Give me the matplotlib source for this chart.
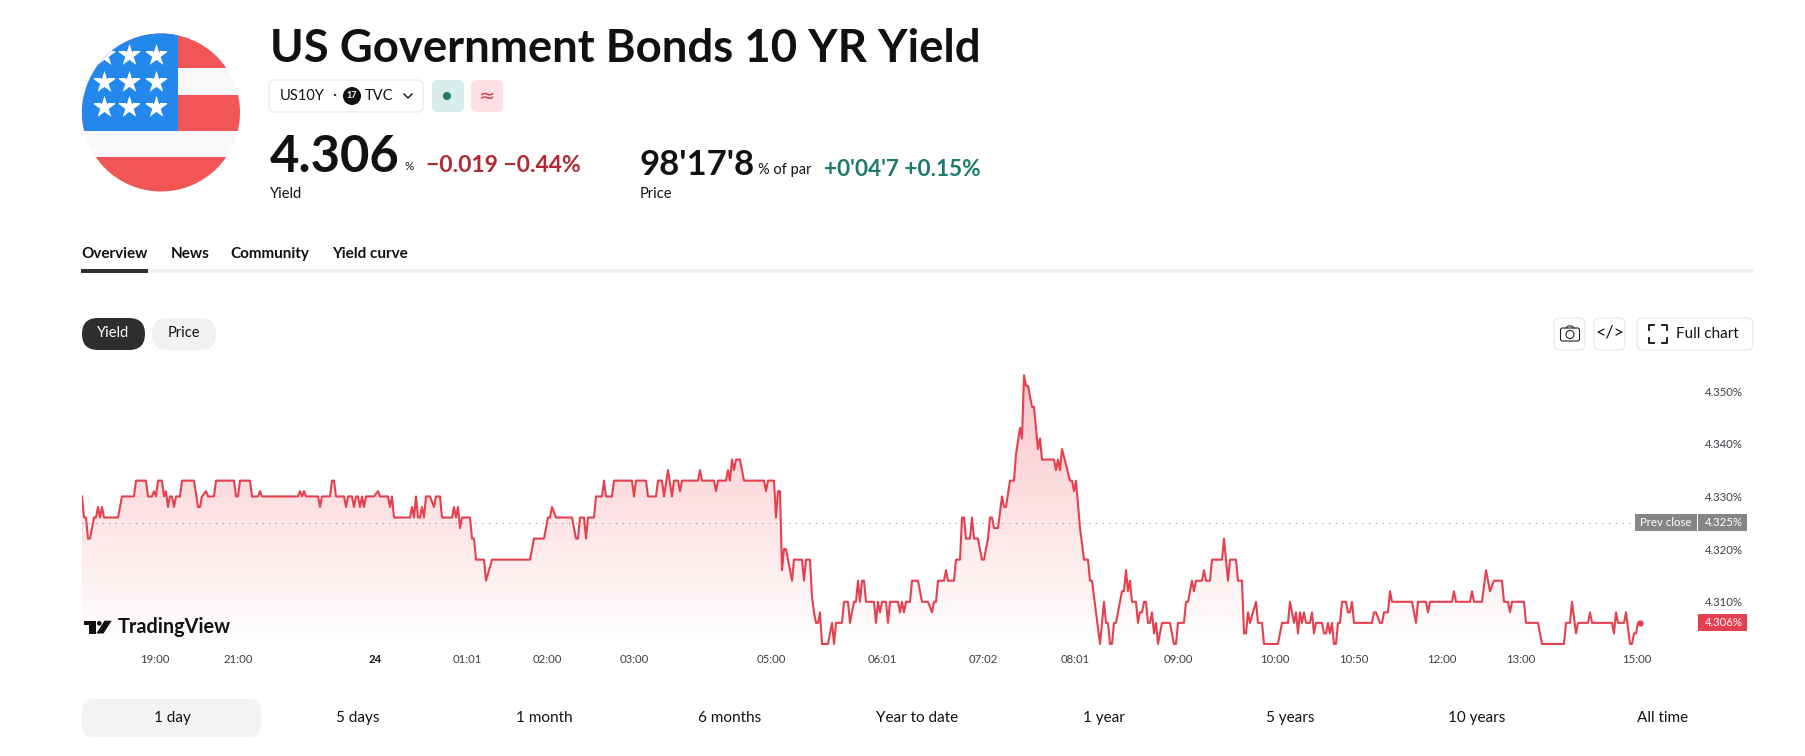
import numpy as np
import matplotlib
matplotlib.use('Agg')
import matplotlib.pyplot as plt
from matplotlib.patches import Circle, Rectangle, FancyBboxPatch, Polygon

plt.rcParams['font.family'] = ['Lato', 'DejaVu Sans']

# intraday yield as (bar, yield) break points
bars_evening = [0,1,2,3,4,6,7,8,9,10,11,18,20,26,27,32,33,35,36,37,38,40,41,42,43,44,45,46,47,49,
                50,56,58,59,60,62,63,66,67,76,77,78,79,84,85,88,89,90,108,109,110,111,112,118,119,120,124,125,126,127,
                131,132,133,135,136,137,138,139,140,141,142,146,148,149,153,154,155,156,164,165,166,167,168,169,170,171,172,174,176,177,
                179,180,185,186,187,188,189,190,194,195,196,197,201,202,205]
yields_evening = [4.330,4.326,4.326,4.322,4.322,4.326,4.326,4.328,4.326,4.328,4.326,4.326,4.330,4.330,4.333,4.333,4.330,4.330,4.331,4.330,4.333,4.333,4.330,4.331,4.328,4.330,4.330,4.328,4.330,4.330,
                  4.333,4.333,4.328,4.328,4.330,4.331,4.330,4.330,4.333,4.333,4.330,4.330,4.333,4.333,4.330,4.330,4.331,4.330,4.330,4.331,4.330,4.331,4.330,4.330,4.328,4.330,4.330,4.333,4.333,4.330,
                  4.330,4.328,4.330,4.330,4.328,4.330,4.330,4.328,4.330,4.328,4.330,4.330,4.331,4.330,4.330,4.328,4.330,4.326,4.326,4.328,4.326,4.330,4.326,4.326,4.328,4.326,4.330,4.330,4.328,4.330,
                  4.330,4.326,4.326,4.328,4.326,4.328,4.324,4.326,4.326,4.322,4.322,4.318,4.318,4.314,4.318]

bars_night = [224,226,231,233,234,235,237,245,247,248,249,251,252,253,256,257,260,261,262,265,266,275,276,277,282,283,287,288,290,291,
              293,295,296,298,299,300,308,309,310,316,317,318,322,323,324,325,326,327,329,331,341,342,343,346,347,348,349,350,351,352,
              354,355,356,360,361,362,364,365,366,367,368,369,370,373,375,376,377,380,381,383,384,386,387,388,389,390,391,392,396,397,
              398,399,400,402,403,404,408,409,410,411,412,414,415,418,420,423,425,426,427,428,431,432,433]
yields_night = [4.318,4.322,4.322,4.326,4.326,4.328,4.326,4.326,4.322,4.322,4.326,4.326,4.322,4.326,4.326,4.330,4.330,4.333,4.330,4.330,4.333,4.333,4.330,4.333,4.333,4.330,4.330,4.333,4.333,4.330,
                4.335,4.330,4.333,4.333,4.331,4.333,4.333,4.335,4.333,4.333,4.331,4.333,4.333,4.335,4.333,4.337,4.335,4.337,4.337,4.333,4.333,4.331,4.333,4.333,4.326,4.331,4.331,4.316,4.320,4.320,
                4.316,4.314,4.318,4.318,4.314,4.318,4.318,4.311,4.308,4.306,4.306,4.308,4.302,4.302,4.306,4.302,4.306,4.306,4.310,4.310,4.306,4.310,4.310,4.314,4.310,4.314,4.314,4.310,4.310,4.306,
                4.310,4.308,4.310,4.310,4.306,4.310,4.310,4.308,4.310,4.308,4.310,4.310,4.314,4.314,4.310,4.310,4.308,4.310,4.310,4.314,4.314,4.316,4.314]

bars_morning = [436,437,439,440,441,442,444,445,446,448,450,451,453,454,455,456,458,460,461,462,464,466,467,469,470,471,472,473,475,476,
                478,479,480,486,487,488,489,490,494,495,496,497,499,501,503,504,505,509,511,512,513,514,515,516,517,519,520,521,522,523,
                524,525,527,528,529,530,531,532,533,534,535,536,537,538,540,544,546,547,548,551,552,553,555,556,557,560,561,562,564,565,
                570,571,573,574,577,578,580,581,582,583,584,587,588,590,591,598,600,603,604,605,606,607,608,609,610,611,612,614,615,616,
                617,620,621,622,623,624,625,626,627,628,629,630,632,633,634,635,636,645,646,647,649,650,651,653]
yields_morning = [4.314,4.318,4.318,4.326,4.326,4.322,4.322,4.326,4.322,4.322,4.318,4.318,4.322,4.326,4.326,4.324,4.324,4.330,4.328,4.328,4.333,4.333,4.338,4.343,4.341,4.353,4.351,4.351,4.347,4.347,
                  4.339,4.341,4.337,4.337,4.335,4.337,4.335,4.339,4.333,4.333,4.331,4.333,4.324,4.318,4.318,4.314,4.314,4.302,4.310,4.306,4.306,4.302,4.302,4.306,4.306,4.310,4.312,4.312,4.316,4.312,
                  4.314,4.310,4.310,4.306,4.308,4.308,4.310,4.310,4.306,4.306,4.308,4.304,4.306,4.302,4.306,4.306,4.302,4.302,4.306,4.306,4.310,4.310,4.314,4.312,4.314,4.314,4.316,4.314,4.314,4.318,
                  4.318,4.322,4.314,4.318,4.318,4.314,4.314,4.304,4.304,4.308,4.306,4.310,4.306,4.306,4.302,4.302,4.306,4.306,4.310,4.308,4.306,4.308,4.304,4.308,4.306,4.308,4.306,4.306,4.308,4.304,
                  4.306,4.306,4.304,4.304,4.306,4.304,4.306,4.302,4.302,4.306,4.306,4.310,4.310,4.308,4.308,4.310,4.306,4.306,4.308,4.308,4.306,4.306,4.308,4.308]

bars_midday = [654,655,665,667,668,672,673,674,685,686,687,694,695,696,700,702,704,706,710,711,713,714,715,721,722,728,730,741,742,744,
               745,747,748,753,754,755,765,766,767,768,771,772,774,775,776,777,778,779]
yields_midday = [4.312,4.310,4.310,4.306,4.310,4.310,4.308,4.310,4.310,4.312,4.310,4.310,4.312,4.310,4.310,4.316,4.312,4.314,4.314,4.310,4.310,4.308,4.310,4.310,4.306,4.306,4.302,4.302,4.306,4.306,
                 4.310,4.304,4.306,4.306,4.308,4.306,4.306,4.304,4.308,4.306,4.306,4.308,4.302,4.302,4.304,4.304,4.306,4.306]

prev_close = 4.325
y_ticks = [4.35, 4.34, 4.33, 4.32, 4.31]
y_labels = ['4.350%', '4.340%', '4.330%', '4.320%', '4.310%']
x_ticks = [36.5, 78, 146.5, 192.5, 232.5, 276, 344.5, 400, 450.5, 496.5, 548, 596.5, 636, 680, 719.5, 777.5]
x_labels = ['19:00', '21:00', '24', '01:01', '02:00', '03:00', '05:00', '06:01', '07:02', '08:01', '09:00', '10:00', '10:50', '12:00', '13:00', '15:00']
ranges = ['1 day', '5 days', '1 month', '6 months', 'Year to date', '1 year', '5 years', '10 years', 'All time']
range_x = [172, 358, 544, 730, 917, 1104, 1290, 1477, 1663]

bars = np.array(bars_evening + bars_night + bars_morning + bars_midday)
yields = np.array(yields_evening + yields_night + yields_morning + yields_midday)

RED = '#e5404e'
INK = '#111111'
W, H = 1806, 756
fig = plt.figure(figsize=(W / 100, H / 100), dpi=100, facecolor='white')

# page furniture lives in a full size axes measured in pixels
ui = fig.add_axes([0, 0, 1, 1])
ui.set_xlim(0, W)
ui.set_ylim(H, 0)
ui.axis('off')

# chart pane, 2 px per bar
left, right, top, bottom = 82, 1724, 370, 645
ax = fig.add_axes([left / W, 1 - bottom / H, (right - left) / W, (bottom - top) / H])
ax.patch.set_alpha(0)
for s in ax.spines.values():
    s.set_visible(False)


def txt(x, y, s, size, color=INK, weight='normal', ha='left', **kw):
    return ui.text(x, y, s, fontsize=size, color=color, fontweight=weight, ha=ha, va='center', **kw)


def box(x0, y0, x1, y1, fc, ec='none', r=6, lw=1):
    p = FancyBboxPatch((x0, y0), x1 - x0, y1 - y0, boxstyle=f'round,pad=0,rounding_size={r}',
                       fc=fc, ec=ec, lw=lw)
    ui.add_patch(p)
    return p


# flag
clip = Circle((161, 112.5), 79, transform=ui.transData)
for y0, y1, c in [(33, 68, '#f25555'), (68, 95, '#f8f8fa'), (95, 131, '#f25555'), (131, 157, '#f8f8fa'), (157, 192, '#f25555')]:
    ui.add_patch(Rectangle((82, y0), 158, y1 - y0, fc=c, ec='none', clip_path=clip))
ui.add_patch(Rectangle((82, 33), 96.5, 98, fc='#2288ec', ec='none', clip_path=clip))
star_x = np.array([104, 129.5, 156] * 3)
star_y = np.array([55] * 3 + [82] * 3 + [107] * 3)
stars = ui.scatter(star_x, star_y, marker='*', s=280, c='white', linewidths=0, zorder=3)
stars.set_clip_path(clip)

# header
txt(270, 49, 'US Government Bonds 10 YR Yield', 32.8, weight='bold')
box(269, 80, 423, 112, 'white', '#e9ecf2')
txt(280, 96, 'US10Y', 10.5)
txt(332, 95, '·', 11)
ui.add_patch(Circle((352, 96), 9, fc=INK, ec='none'))
txt(352, 96, '17', 6.5, color='white', weight='bold', ha='center')
txt(365, 96, 'TVC', 10.5)
ui.plot([404, 408, 412], [94, 98, 94], color=INK, lw=1)
box(432, 80, 464, 112, '#d9eeec')
ui.add_patch(Circle((447, 96), 4, fc='#22766a', ec='none'))
box(471, 80, 503, 112, '#fde0e3')
txt(487, 96, '≈', 14, color='#cf3a4c', ha='center', family='DejaVu Sans')

txt(270, 158, '4.306', 36.5, weight='bold')
txt(405, 167, '%', 8.5)
txt(426, 165, '−0.019 −0.44%', 16.5, color='#b22833', weight='bold')
txt(270, 194, 'Yield', 10.5)
txt(640, 165, "98'17'8", 25, weight='bold')
txt(758, 170, '% of par', 10.5)
txt(824, 169, "+0'04'7 +0.15%", 16.3, color='#1c7a6c', weight='bold')
txt(640, 194, 'Price', 10.5)

# tabs
for x, s in [(81, 'Overview'), (171, 'News'), (230, 'Community'), (332, 'Yield curve')]:
    txt(x, 254, s, 11, weight='bold')
ui.add_patch(Rectangle((81, 269), 1673, 3.5, fc='#f0f2f2', ec='none'))
ui.add_patch(Rectangle((81, 269), 67, 3.5, fc='#2e2e2e', ec='none'))

# chart buttons
box(82, 318, 145, 350, '#2e2e2e', r=16)
txt(113.5, 333, 'Yield', 10.5, color='white', ha='center')
box(152, 318, 216, 350, '#f0f1f1', r=16)
txt(184, 333, 'Price', 10.5, ha='center')
box(1554, 318, 1585, 350, 'white', '#e9ecf2')
box(1594, 318, 1625, 350, 'white', '#e9ecf2')
box(1637, 318, 1753, 350, 'white', '#e9ecf2')
box(1560.5, 328, 1579.5, 341, 'white', '#222222', r=2, lw=0.8)
ui.add_patch(Circle((1570, 334.5), 4, fc='white', ec='#222222', lw=0.8))
ui.plot([1566, 1568, 1572, 1574], [328, 326, 326, 328], color='#222222', lw=0.8)
txt(1610, 333, '</>', 13, ha='center')
for sx, sy in [(1, 1), (-1, 1), (1, -1), (-1, -1)]:
    cx, cy = 1658.5 - sx * 9, 334 - sy * 9
    ui.plot([cx, cx, cx + sx * 5], [cy + sy * 5, cy, cy], color=INK, lw=1.3)
txt(1676, 334, 'Full chart', 11)

# area under the line, faded downwards
ymin, ymax = 4.3018, 4.3540
grad = np.zeros((256, 1, 4))
grad[:, 0, :3] = np.array([242, 54, 69]) / 255
grad[:, 0, 3] = np.linspace(0.30, 0.0, 256)
area = ax.fill_between(bars, yields, ymin, facecolor='none', edgecolor='none')
im = ax.imshow(grad, extent=[0, bars[-1], ymin, ymax], aspect='auto', origin='upper', zorder=1)
im.set_clip_path(area.get_paths()[0], transform=ax.transData)
ax.plot(bars, yields, color=RED, lw=1.5, zorder=3)
ax.plot(bars[-1], yields[-1], 'o', color=RED, ms=4.5, mec='none', zorder=4)
prev_end = (1635 - left) / 2
ax.plot([0, prev_end], [prev_close, prev_close], color='#8a8e99', lw=0.8, ls=(0, (1, 5)), zorder=2)
ax.set_xlim(0, (right - left) / 2)
ax.set_ylim(ymin, ymax)

ax.yaxis.tick_right()
ax.set_yticks(y_ticks, y_labels)
ax.set_xticks(x_ticks, x_labels)
ax.tick_params(axis='y', length=0, pad=0, labelsize=8.2, labelcolor='#3c3f47')
ax.tick_params(axis='x', length=0, pad=6.3, labelsize=8.2, labelcolor='#3c3f47')
for t in ax.get_yticklabels():
    t.set_ha('center')
ax.get_xticklabels()[2].set_fontweight('bold')
ax.get_xticklabels()[2].set_color(INK)

# price tags sit on their values
to_px = lambda v: ui.transData.inverted().transform(ax.transData.transform((0, v)))[1]
y_prev = to_px(prev_close)
y_last = to_px(yields[-1])
ui.add_patch(Rectangle((1635, y_prev - 8.5), 62, 17, fc='#868686', ec='none'))
ui.add_patch(Rectangle((1698, y_prev - 8.5), 49, 17, fc='#868686', ec='none'))
txt(1666, y_prev, 'Prev close', 8.2, color='white', ha='center')
txt(1724, y_prev, '4.325%', 8.2, color='white', ha='center')
ui.add_patch(Rectangle((1698, y_last - 8.5), 49, 17, fc=RED, ec='none'))
txt(1724, y_last, '4.306%', 8.2, color='white', ha='center')

# TradingView mark
ui.add_patch(Polygon([(84, 620.7), (95.7, 620.7), (95.7, 633.5), (89.3, 633.5), (89.3, 625), (84, 625)], fc=INK, ec='none'))
ui.add_patch(Circle((99.3, 623.3), 2.3, fc=INK, ec='none'))
ui.add_patch(Polygon([(104.5, 620.7), (111.7, 620.7), (103.5, 633.5), (96.3, 633.5)], fc=INK, ec='none'))
txt(118, 627, 'TradingView', 14.3, weight='bold')

# range selector
box(82, 699, 261, 737, '#f2f3f3', r=12)
for x, s in zip(range_x, ranges):
    txt(x, 718, s, 11, ha='center')

fig.savefig('out.png', dpi=100)
